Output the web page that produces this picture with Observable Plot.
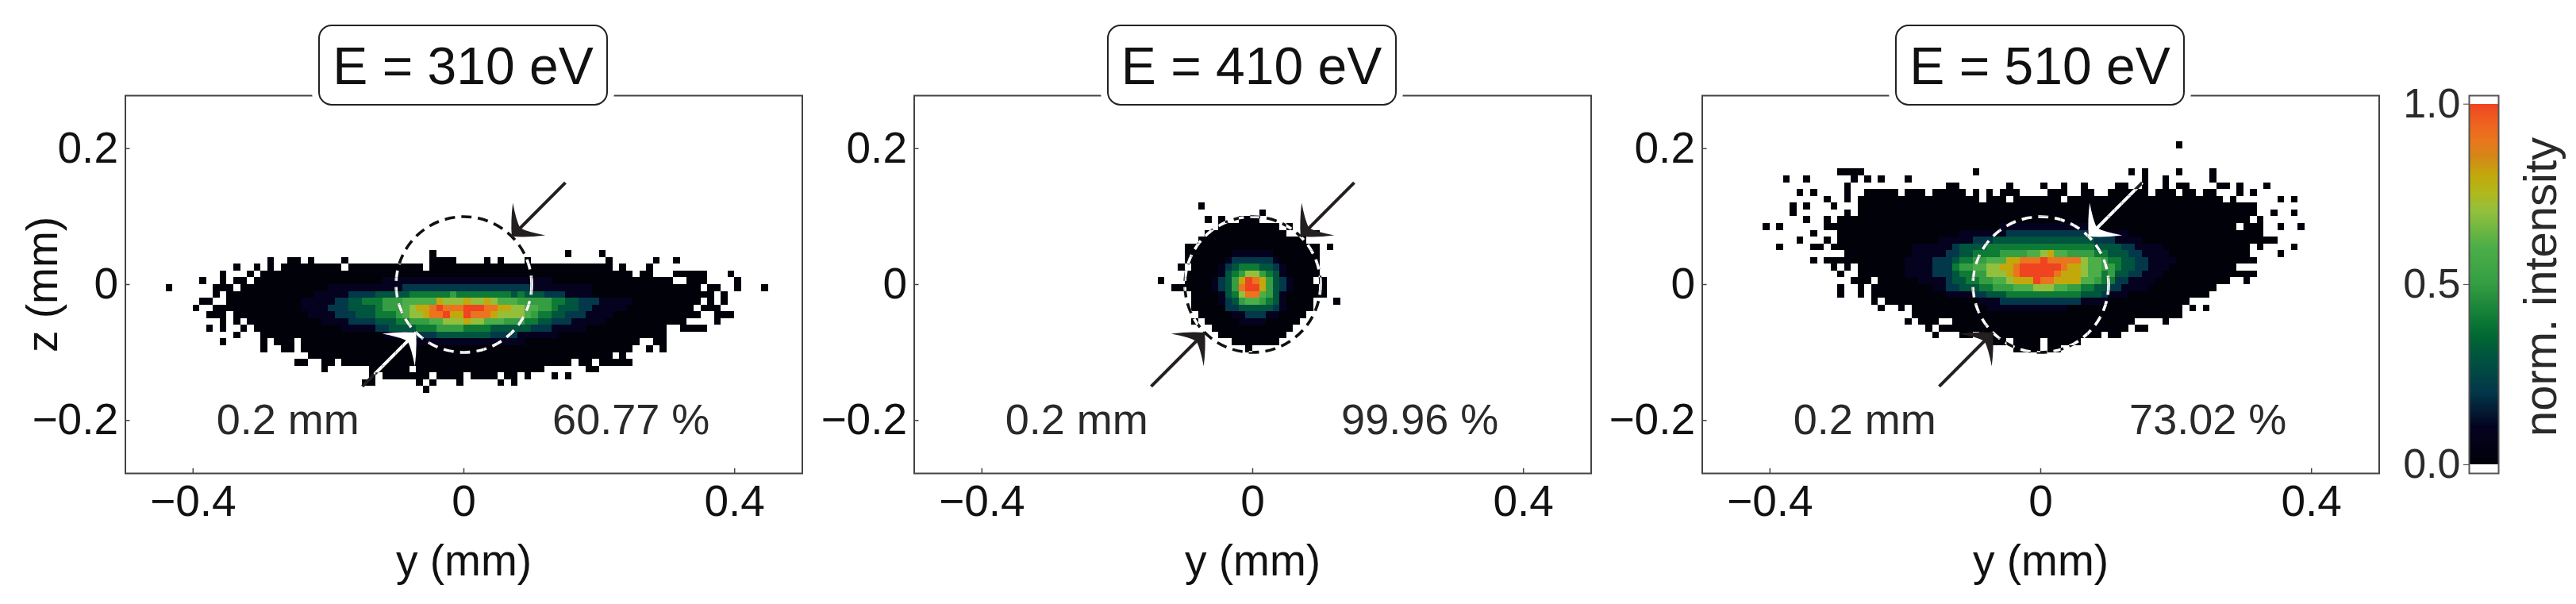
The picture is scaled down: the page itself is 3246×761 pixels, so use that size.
<!DOCTYPE html>
<html><head><meta charset="utf-8">
<script src="https://cdn.jsdelivr.net/npm/d3@7"></script>
<script src="https://cdn.jsdelivr.net/npm/@observablehq/plot@0.6"></script>
<style>
html,body{margin:0;padding:0;background:#fff;overflow:hidden}
#page{position:relative;width:3246px;height:761px;overflow:hidden;font-family:"Liberation Sans",Arial,sans-serif}
#page>svg,.p{position:absolute;top:0}
.title{position:absolute;top:31px;width:361px;height:98px;line-height:100px;border:2px solid #222;border-radius:17px;background:#fff;text-align:center;font-size:66px;color:#111;box-shadow:0 0 0 8px #fff;white-space:nowrap}
</style></head><body><div id="page"></div>
<script>
const energies = ["E = 310 eV", "E = 410 eV", "E = 510 eV"];
const apertures = ["0.2 mm", "0.2 mm", "0.2 mm"];
const percents = ["60.77 %", "99.96 %", "73.02 %"];
const xTicks = [-0.4, 0, 0.4];
const yTicks = [-0.2, 0, 0.2];
const barTicks = [0, 0.5, 1];
const cmapValues = [0, 0.1, 0.2, 0.3, 0.35, 0.4, 0.5, 0.6, 0.7, 0.75, 0.8, 0.85, 0.9, 0.95, 1];
const cmapColors = ["#01010a", "#04021f", "#03384a", "#00553e", "#006633", "#0d7a36", "#359e43", "#4cae48", "#92c03c", "#b0b81c", "#c3a80c", "#d48818", "#ea751e", "#ee5e20", "#f04320"];
const mask310 = [
[4,"-5 15 20"],
[3,"-29 -26:-25 -23 -18 -5:-2 3 5 9 21 28 31"],
[2,"-34 -31 -29 -27:-19 -17:-7 -5:21 23 27"],
[1,"-36 -32 -30:24 26:27 31:35 39"],
[0,"-39 -36 -34:-33 -31:30 33:35 40"],
[-1,"-44 -37:-35 -33:34 36:37 40 44"],
[-2,"-37 -35:36 38"],
[-3,"-39:-38 -35:34 36 38"],
[-4,"-40 -37:33 35:37"],
[-5,"-38:-36 -34:34 37:39"],
[-6,"-36 -34 -32:32 37"],
[-7,"-38 -36 -33 -31:29 32:35"],
[-8,"-34 -30:29"],
[-9,"-36 -30 -28:-26 -24:25 28:29"],
[-10,"-30 -27:-26 -24:24 27 29"],
[-11,"-23:21 23"],
[-12,"-25:-24 -21:-20 -18:15 17:18 20:24"],
[-13,"-21 -14:-9 -7:11 18:19"],
[-14,"-14 -12:-6 -4:-1 1:4 6:7 9 13 15"],
[-15,"-15:-14 -7 -5 -1 5 7"],
[-16,"-6"]];
const mask410 = [
[11,"-8"],[10,"1"],
[9,"-7 -5 -2:0"],
[8,"-5:3 5"],
[7,"-7:4 9"],
[6,"-8:7"],
[5,"-10:9 11"],
[4,"-10:9"],
[3,"-10:9"],
[2,"-11 -9:9"],
[1,"-10:9"],
[0,"-14 -10:8 10"],
[-1,"-12:10"],
[-2,"-9:10"],
[-3,"-9:8 12"],
[-4,"-9:8"],
[-5,"-8:7"],
[-6,"-9 -7:6"],
[-7,"-6:5"],
[-8,"-5:4"],
[-9,"-3:3"],
[-10,"-1"]];
const mask510 = [
[20,"20"],
[16,"-30:-27 -10 13 15 20 25"],
[15,"-38 -35 -28 -26 -24 -20 15 18 25"],
[14,"-29 -14:-13 -5 0 3 6 11:12 15 18 20:21 26:27 29 33"],
[13,"-36 -34 -29 -26:-22 -20:-18 -16:-12 -10 -8 -6:-4 1:3 6:7 10:15 17:19 21:22 24:25 29 31"],
[12,"-32 -29 -27:-10 -8:-6 -4:2 4:26 28 35 37"],
[11,"-37 -35 -31 -27:31"],
[10,"-37 -29 -27:31 34 37"],
[9,"-35 -32 -30:30 32"],
[8,"-41 -39 -32:28 30:32 35 38"],
[7,"-34 -30:32"],
[6,"-36 -32 -30:34"],
[5,"-39 -34:-33 -31:30 32 37"],
[4,"-29:30 35"],
[3,"-34 -32:31"],
[2,"-31 -29 -27:28"],
[1,"-30 -27:31"],
[0,"-28:-26 -24:27 30"],
[-1,"-30 -27 -25:25"],
[-2,"-30 -27 -25:24"],
[-3,"-25 -23:21"],
[-4,"-24 -21 -19:20 22 24"],
[-5,"-19:20"],
[-6,"-20 -18:-16 -13:13 18"],
[-7,"-17 -15:12 14:15"],
[-8,"-16 -12:-11 -9:8 10:11"],
[-9,"-7:-6 -4:-1 1:5"],
[-10,"-4:-1 1:2"]];
const glow310 = [
[0,-12,"1111111111111111111111111"],
[-1,-20,"11111111111 2222222222222222222 111111111"],
[-2,-22,"111 1122 22333 33444 444544 44444 43433 32221 111"],
[-3,-24,"1111 122 33 444 555 66666 8 777 8 77 8 7 666 555554 4332221 1111"],
[-4,-24,"1111 222 3333 4 555 6 7 88 9 x 999 xxx 99 88 77 66 55 4 333 22 11111"],
[-5,-23,"111 122 2 333 444 5 6 77 8 99 x 88 x 999 8 7777 6 5 44 33 222 1111"],
[-6,-21,"1 111 2 222 333 44 555 66 777 8 77 666 555 44 33 222 11111"],
[-7,-18,"11111 22 3333 444 5555 4444 333333 222 11111"],
[-8,-12,"1111 2222 33333333 2222 111111"],
[-9,-7,"1111111111111111"]];
const glow410 = [
[4,-3,"111111"],
[3,-4,"12222221"],
[2,-5,"1234443321"],
[1,-5,"1345775431"],
[0,-6,"12358x985321"],
[-1,-6,"12359xx85321"],
[-2,-5,"1347996531"],
[-3,-5,"1235665431"],
[-4,-4,"223333321"],
[-5,-3,"1122211"],
[-6,-2,"1111"]];
const glow510 = [
[8,-6,"1111111111111"],
[7,-12,"1111111 222222222222 111111"],
[6,-15,"111 11 222 333 33333333333 3222 11 11"],
[5,-19,"11111 12 333 34444 44444444444 4333 3 2 2 1111"],
[4,-19,"111 112 2 334 44455 5566 7 8 66555 544 333 22 1111"],
[3,-20,"111 122 23 445 5 666 88 999 x 99999 7 66 54 43 3 22 1111"],
[2,-20,"111 122 24 556 6 77 8 8 9 xxxxxx 9 8 8 7 66 55 4 3 3 22 111"],
[1,-20,"111 122 23 445 5 77 7 8 9 xxxxx 9 8 8 8 7 66 45 3 3 2 2 1 1 1"],
[0,-18,"1111 2 3 34 45 56 6 7 8 8 8 x 99 8 8 8 8 6 6 5 44 2 2 1111"],
[-1,-16,"112 2 33 34 45 55 666 777 66 55 44 33 22 11 11"],
[-2,-14,"111 12 2333 44444 444444 33 32 11 1"],
[-3,-9,"111 222222222222 1111"],
[-4,-8,"111111111111"]];
const arrowsByPanel = [
  [{x1:0.15,y1:0.15,x2:0.0707,y2:0.0707,ink:"#231f20"},{x1:-0.15,y1:-0.15,x2:-0.0707,y2:-0.0707,ink:"#fff",from:-0.132}],
  [{x1:0.15,y1:0.15,x2:0.0707,y2:0.0707,ink:"#231f20"},{x1:-0.15,y1:-0.15,x2:-0.0707,y2:-0.0707,ink:"#231f20"}],
  [{x1:0.15,y1:0.15,x2:0.0707,y2:0.0707,ink:"#fff",from:0.15},{x1:-0.15,y1:-0.15,x2:-0.0707,y2:-0.0707,ink:"#231f20"}]
];
const BIN = 0.01;
function buildCells(mask, glow) {
  const m = new Map();
  for (const [r, spec] of mask) for (const part of spec.split(" ")) {
    const [a, b = a] = part.split(":").map(Number);
    for (let c = a; c <= b; c++) m.set(c + "," + r, {c, r, v: 0});
  }
  for (const [r, start, s] of glow) [...s.replace(/ /g, "")].forEach((ch, i) => {
    const c = start + i;
    m.set(c + "," + r, {c, r, v: ch === "x" ? 1 : +ch / 10});
  });
  return [...m.values()];
}
const colorScale = {type: "linear", domain: cmapValues, range: cmapColors, clamp: true};
const sweptHead = {draw(ctx) {
  ctx.moveTo(0, 0);
  ctx.quadraticCurveTo(15, 13, 29, 31);
  ctx.quadraticCurveTo(10, 18, 0, 15);
  ctx.quadraticCurveTo(-10, 18, -29, 31);
  ctx.quadraticCurveTo(-15, 13, 0, 0);
  ctx.closePath();
}};
let clipId = 0;
const clipToCells = (cells) => (index, scales, values, dims, context, next) => {
  const g = next(index, scales, values, dims, context);
  const NS = "http://www.w3.org/2000/svg";
  const cp = document.createElementNS(NS, "clipPath");
  cp.setAttribute("id", "cellclip" + (++clipId));
  for (const d of cells) {
    const rect = document.createElementNS(NS, "rect");
    const x = scales.x(d.c * BIN), y = scales.y((d.r + 1) * BIN);
    rect.setAttribute("x", x);
    rect.setAttribute("y", y);
    rect.setAttribute("width", scales.x((d.c + 1) * BIN) - x);
    rect.setAttribute("height", scales.y(d.r * BIN) - y);
    cp.appendChild(rect);
  }
  const wrap = document.createElementNS(NS, "g");
  wrap.setAttribute("clip-path", `url(#${cp.id})`);
  wrap.appendChild(cp);
  wrap.appendChild(g);
  return wrap;
};
const signed = (d) => d === 0 ? "0" : String(d).replace("-", "\u2212");
const FONT = '"Liberation Sans", Arial, sans-serif';
const page = document.getElementById("page");
const masks = [mask310, mask410, mask510], glows = [glow310, glow410, glow510];
const centres = [583.5, 1577, 2570.5];
centres.forEach((x0, i) => {
  const cells = buildCells(masks[i], glows[i]);
  const left = x0 - 583.5;
  const arrows = arrowsByPanel[i];
  const whites = arrows.filter((d) => d.ink === "#fff");
  const chart = Plot.plot({
    width: 1014, height: 761,
    marginLeft: 157.5, marginRight: 3.5, marginTop: 120, marginBottom: 165,
    x: {domain: [-0.5, 0.5]},
    y: {domain: [-0.278, 0.278]},
    color: colorScale,
    style: {fontFamily: FONT, background: "transparent", overflow: "visible"},
    marks: [
      Plot.rect(cells, {
        x1: (d) => d.c * BIN, x2: (d) => (d.c + 1) * BIN,
        y1: (d) => d.r * BIN, y2: (d) => (d.r + 1) * BIN,
        fill: "v", shapeRendering: "crispEdges"
      }),
      Plot.dot([0], {x: () => 0, y: () => 0, r: 85.5, stroke: "#111", strokeWidth: 3.6, strokeDasharray: "13,8"}),
      Plot.dot([0], {x: () => 0, y: () => 0, r: 85.5, stroke: "#fff", strokeWidth: 3.6, strokeDasharray: "13,8", render: clipToCells(cells)}),
      Plot.link(arrows, {x1: "x1", y1: "y1", x2: "x2", y2: "y2", stroke: "#231f20", strokeWidth: 4}),
      Plot.link(whites, {x1: "from", y1: "from", x2: "x2", y2: "y2", stroke: "#fff", strokeWidth: 4, render: clipToCells(cells)}),
      Plot.dot(arrows, {
        x: "x2", y: "y2", fill: "ink", symbol: sweptHead, r: 10,
        rotate: (d) => Math.atan2(d.x2 - d.x1, d.y2 - d.y1) * 180 / Math.PI
      }),
      Plot.text([apertures[i]], {x: () => -0.26, y: () => -0.2, text: (d) => d, fontSize: 54, fill: "#2a2a2a", lineAnchor: "middle"}),
      Plot.text([percents[i]], {x: () => 0.247, y: () => -0.2, text: (d) => d, fontSize: 54, fill: "#2a2a2a", lineAnchor: "middle"}),
      Plot.frame({stroke: "#444", strokeWidth: 2}),
      Plot.tickX(xTicks, {x: (d) => d, insetTop: 470, stroke: "#444", strokeWidth: 1.5}),
      Plot.tickY(yTicks, {y: (d) => d, insetRight: 847, stroke: "#444", strokeWidth: 1.5}),
      Plot.axisX({ticks: xTicks, tickSize: 0, tickPadding: 14, fontSize: 55, tickFormat: signed, color: "#111",
        label: "y (mm)", labelAnchor: "center", labelArrow: "none", labelOffset: 128}),
      Plot.axisY({ticks: yTicks, tickSize: 0, tickPadding: 9, fontSize: 55, tickFormat: signed, color: "#111",
        label: i === 0 ? "z (mm)" : null, labelAnchor: "center", labelArrow: "none", labelOffset: 125})
    ]
  });
  chart.style.left = left + "px";
  page.appendChild(chart);
  const t = document.createElement("div");
  t.className = "title";
  t.textContent = energies[i];
  t.style.left = (x0 - 182.5) + "px";
  page.appendChild(t);
});
const barLevels = d3.range(0, 1, 0.005);
const bar = Plot.plot({
  width: 246, height: 761,
  marginLeft: 111, marginRight: 98, marginTop: 120, marginBottom: 165,
  x: {domain: [0, 1], axis: null},
  y: {domain: [-0.024, 1.0235]},
  color: colorScale,
  style: {fontFamily: FONT, background: "transparent", overflow: "visible"},
  marks: [
    Plot.rect(barLevels, {x1: () => 0, x2: () => 1, y1: (d) => d, y2: (d) => d + 0.005, fill: (d) => d, shapeRendering: "crispEdges"}),
    Plot.frame({stroke: "#555", strokeWidth: 2}),
    Plot.axisY({ticks: barTicks, tickSize: 7, tickPadding: 4, fontSize: 52, tickFormat: d3.format(".1f"), color: "#2a2a2a", stroke: "#444", label: null}),
    Plot.text(["norm. intensity"], {frameAnchor: "right", textAnchor: "middle", rotate: -90, dx: 54, dy: 3, text: (d) => d, fontSize: 58, fill: "#2a2a2a", lineAnchor: "middle"})
  ]
});
bar.style.left = "3000px";
page.appendChild(bar);
</script></body></html>
